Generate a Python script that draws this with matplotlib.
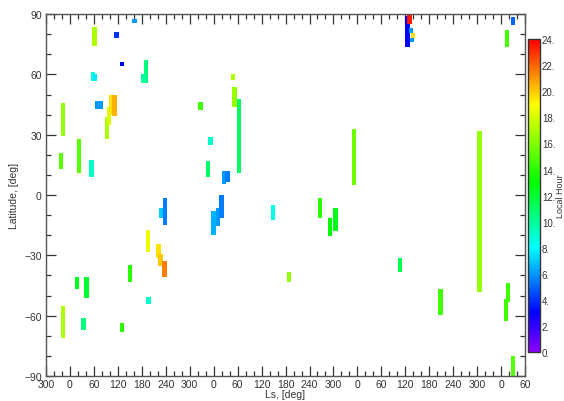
import matplotlib
matplotlib.use("Agg")
import matplotlib.pyplot as plt
from matplotlib.colors import LinearSegmentedColormap, Normalize
from matplotlib.cm import ScalarMappable
from matplotlib.ticker import MultipleLocator

plt.rcParams['font.family'] = ['Liberation Sans', 'DejaVu Sans']

# Ls continuo (anos marcianos seguidos), faixa de latitude e hora local de cada observacao
ls = [-17, -22, -17,
      23, 54, 61, 57, 63, 68, 76, 117, 130, 162, 191, 184,
      92, 97, 104, 112, 327, 352, 346,
      17.5, 41, 34, 130, 151, 196, 197, 222, 227, 237, 238, 228,
      360, 371, 380, 386, 395, 409, 412, 424, 509, 548, 627, 651, 665, 712,
      826, 845, 850, 854, 859, 856, 928, 1026, 1092, 1097,
      1095, 1109, 1110]
lat_lo = [29.5, 13, -71,
          11, 9, 74, 57, 57, 43, 43, 78, 64, 85.5, 56, 56,
          28, 35, 40, 39.5, 42.5, 25, 9,
          -46.5, -51, -67, -68, -43, -28.5, -54, -31.5, -35.5, -40.5, -15, -11.5,
          -20, -15.5, -11.5, 5.5, 6.5, 57.5, 44, 11, -12.5, -43, -11.5, -20.5, -18, 5,
          -38.5, 73.5, 85, 80.5, 78, 76, -59.5, -48, -62.5, -53,
          73.5, 84.5, -90]
lat_hi = [46, 21, -55,
          28, 17.5, 83.5, 61, 60, 47, 47, 81, 66, 87.5, 67, 60,
          39, 44, 50, 50, 46.5, 29, 17,
          -40.5, -40.5, -61, -63.5, -35, -17.5, -50.5, -24.5, -29.5, -33, -1.5, -6.5,
          -8, -6.5, 0, 12, 12, 60, 54, 48, -5, -38.5, -1.5, -11.5, -6.5, 33,
          -31.5, 89, 89.5, 83, 80.5, 78, -46.5, 32, -51.5, -43.5,
          82, 88.5, -80]
hora = [16.5, 15, 17,
        15, 9, 17, 9, 7.5, 6, 6, 4, 3, 6, 10.5, 10,
        17, 18, 19.5, 20.5, 14.5, 9, 11,
        12.5, 12, 10.5, 14, 14, 18.5, 9, 19.5, 20, 21.5, 5.5, 7,
        6.5, 6, 5.5, 6, 5.5, 17, 16.5, 11, 8.5, 16.5, 14, 13, 12.5, 15.5,
        11.5, 3, 23.5, 6, 19.5, 6, 14.5, 16.5, 14.5, 14.5,
        14.5, 5, 15]

ls_ticks = list(range(-60, 1141, 60))
ls_labels = ['300', '0', '60', '120', '180', '240',
             '300', '0', '60', '120', '180', '240',
             '300', '0', '60', '120', '180', '240',
             '300', '0', '60']
lat_ticks = [-90, -60, -30, 0, 30, 60, 90]
hora_ticks = list(range(0, 25, 2))

# escala arco-iris tipo IDL
cores = [(0.0, (0.55, 0.0, 1.0)),
         (3 / 24, (0.0, 0.0, 1.0)),
         (8 / 24, (0.0, 1.0, 1.0)),
         (13 / 24, (0.0, 1.0, 0.0)),
         (19 / 24, (1.0, 1.0, 0.0)),
         (1.0, (1.0, 0.0, 0.0))]
cmap = LinearSegmentedColormap.from_list("arcoiris", cores)
norm = Normalize(0, 24)

fig = plt.figure(figsize=(5.64, 4.02), dpi=100)
ax = fig.add_axes([0.0816, 0.0622, 0.8494, 0.9])

alturas = [h - l for l, h in zip(lat_lo, lat_hi)]
ax.bar(ls, alturas, bottom=lat_lo, width=11, color=cmap(norm(hora)),
       edgecolor='none', zorder=2)

ax.set_xlim(-60, 1140)
ax.set_ylim(-90, 90)
ax.set_xticks(ls_ticks)
ax.set_xticklabels(ls_labels)
ax.set_yticks(lat_ticks)
ax.xaxis.set_minor_locator(MultipleLocator(20))
ax.yaxis.set_minor_locator(MultipleLocator(10))
ax.tick_params(which='both', direction='in', top=True, right=True,
               labelsize=7.5, colors='#333333', pad=3)
ax.tick_params(axis='x', pad=2)
ax.tick_params(which='major', length=7, width=0.9)
ax.tick_params(which='minor', length=3.5, width=0.9)
for s in ax.spines.values():
    s.set_color('#555555')
    s.set_linewidth(1.0)

ax.set_xlabel('Ls, [deg]', fontsize=7.5, color='#333333', labelpad=0)
ax.set_ylabel('Latitude, [deg]', fontsize=7.5, color='#333333', labelpad=4)

cax = fig.add_axes([0.936, 0.122, 0.021, 0.778])
cb = fig.colorbar(ScalarMappable(norm=norm, cmap=cmap), cax=cax)
cb.set_ticks(hora_ticks)
cb.set_ticklabels([str(h) + '.' for h in hora_ticks])
cb.ax.tick_params(length=0, labelsize=7, colors='#333333', pad=1.5)
cb.outline.set_edgecolor('#333333')
cb.outline.set_linewidth(1.0)
cb.set_label('Local Hour', fontsize=6.5, color='#333333')
cb.ax.yaxis.set_label_coords(2.4, 0.5)

fig.savefig('out.png', dpi=100)
